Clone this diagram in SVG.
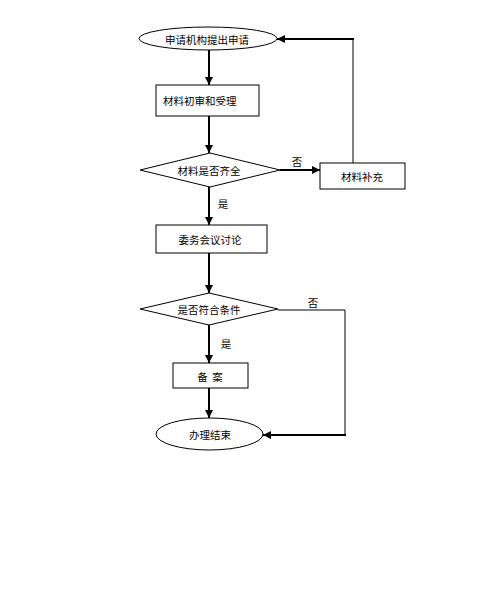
<svg xmlns="http://www.w3.org/2000/svg" width="500" height="600" viewBox="0 0 500 600">
<style>
.s{fill:#fff;stroke:#000;stroke-width:1}
.t{font-family:"Noto Sans CJK SC","Noto Sans CJK JP",sans-serif;font-size:10.5px;fill:#000;dominant-baseline:central}
.c{text-anchor:middle}
.thick{fill:none;stroke:#000;stroke-width:2}
.thin{fill:none;stroke:#000;stroke-width:1}
</style>
<defs>
<marker id="ah" viewBox="0 0 8 8" refX="8" refY="4" markerWidth="4" markerHeight="4" orient="auto" markerUnits="strokeWidth">
<path d="M0,0 L8,4 L0,8 z" fill="#000"/>
</marker>
</defs>
<rect width="500" height="600" fill="#fff"/>
<g id="connectors">
<line class="thick" x1="209" y1="50" x2="209" y2="85" marker-end="url(#ah)"/>
<line class="thick" x1="209" y1="116" x2="209" y2="153" marker-end="url(#ah)"/>
<line class="thick" x1="280" y1="170" x2="320" y2="170" marker-end="url(#ah)"/>
<text class="t c" x="297" y="161">否</text>
<polyline class="thin" points="353,163 353,39"/>
<line class="thick" x1="354" y1="39" x2="277" y2="39" marker-end="url(#ah)"/>
<line class="thick" x1="209" y1="187" x2="209" y2="225" marker-end="url(#ah)"/>
<text class="t c" x="223" y="203">是</text>
<line class="thick" x1="209" y1="253" x2="209" y2="293" marker-end="url(#ah)"/>
<polyline class="thin" points="278,310 345,310 345,435"/>
<line class="thick" x1="346" y1="435" x2="263" y2="435" marker-end="url(#ah)"/>
<text class="t c" x="313" y="302">否</text>
<line class="thick" x1="209" y1="325" x2="209" y2="363" marker-end="url(#ah)"/>
<text class="t c" x="226" y="343">是</text>
<line class="thick" x1="209" y1="388" x2="209" y2="418" marker-end="url(#ah)"/>
</g>
<g id="start">
<ellipse class="s" cx="208" cy="38.5" rx="69" ry="11.5"/>
<text class="t c" x="207" y="39">申请机构提出申请</text>
</g>
<g id="review">
<rect class="s" x="156" y="85" width="103" height="31"/>
<text class="t" x="163" y="100">材料初审和受理</text>
</g>
<g id="complete">
<polygon class="s" points="140,170 210,153 280,170 210,187"/>
<text class="t c" x="209" y="170">材料是否齐全</text>
</g>
<g id="supplement">
<rect class="s" x="320" y="163" width="85" height="26"/>
<text class="t c" x="362" y="176">材料补充</text>
</g>
<g id="meeting">
<rect class="s" x="156" y="225" width="111" height="28"/>
<text class="t c" x="210" y="239">委务会议讨论</text>
</g>
<g id="qualify">
<polygon class="s" points="140,309 209,293 278,309 209,325"/>
<text class="t c" x="209" y="309">是否符合条件</text>
</g>
<g id="record">
<rect class="s" x="173" y="363" width="75" height="25"/>
<text class="t c" x="210" y="376" xml:space="preserve">备  案</text>
</g>
<g id="end">
<ellipse class="s" cx="209.5" cy="434" rx="53.5" ry="16"/>
<text class="t c" x="210" y="434">办理结束</text>
</g>
</svg>
